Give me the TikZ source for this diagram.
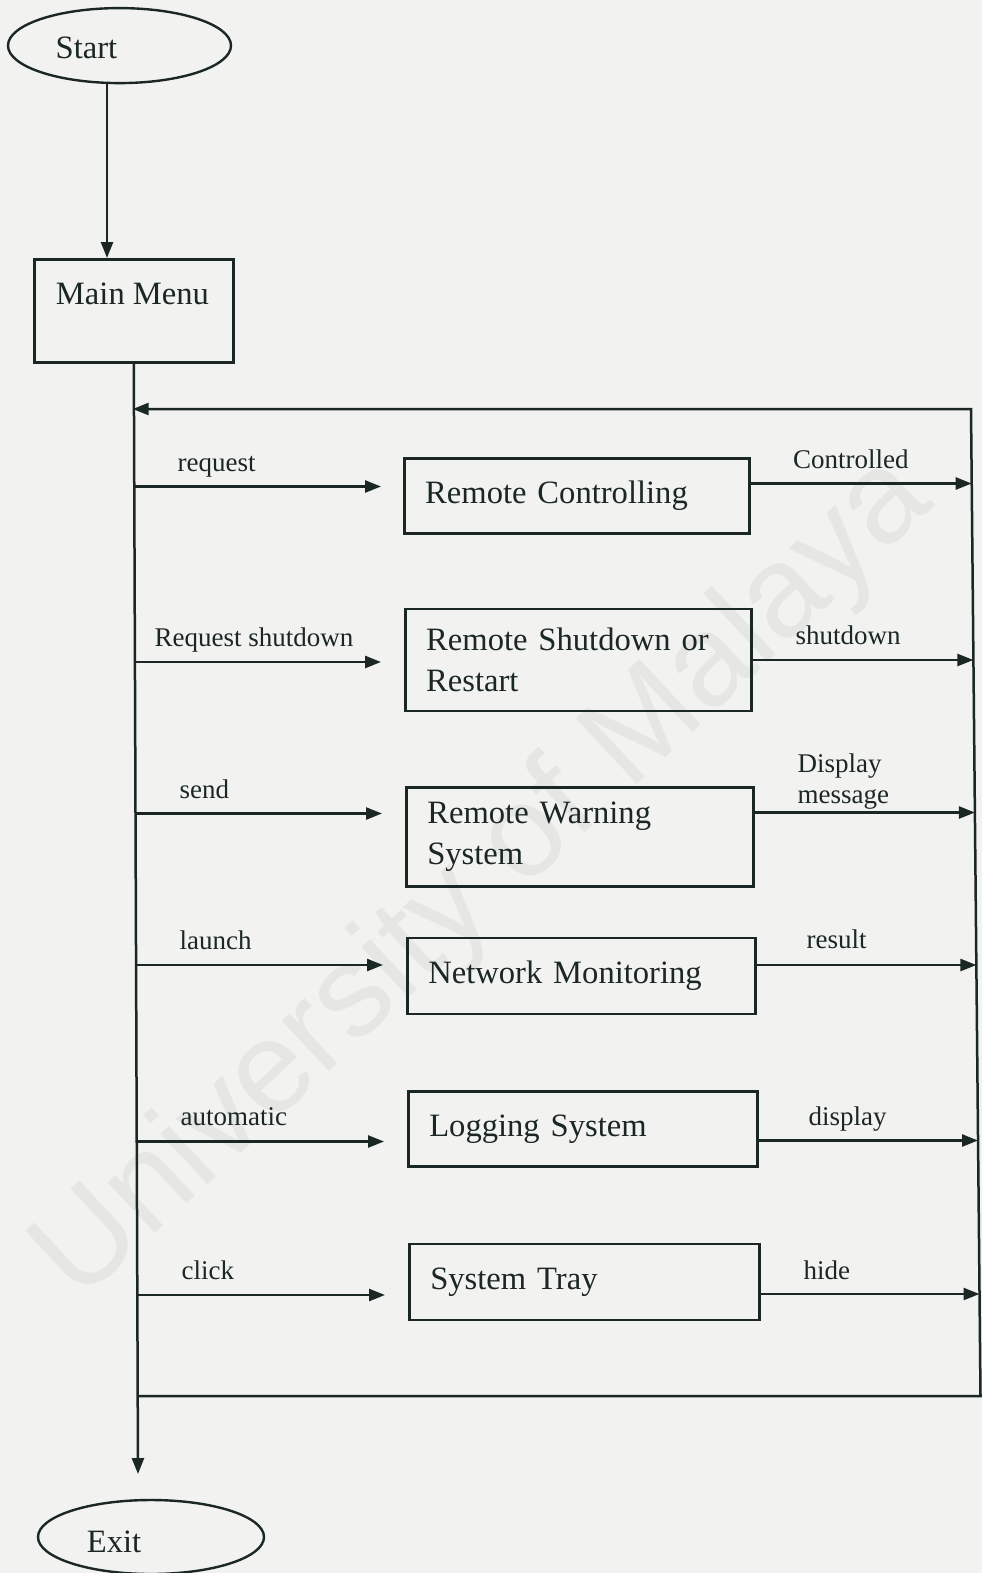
\documentclass[tikz,border=0pt]{standalone}
\usepackage{fontspec}
\setmainfont{Liberation Serif}
\newfontfamily\wmfont{Liberation Sans}
\usetikzlibrary{arrows.meta,shapes.geometric,calc}
\definecolor{ink}{HTML}{1B2724}
\definecolor{paper}{HTML}{F2F2F0}
\definecolor{wmark}{HTML}{E6E7E5}
\begin{document}
\begin{tikzpicture}[x=1pt,y=-1pt,
  line/.style={draw=ink,line width=2.5pt},
  arr/.style={line,-{Triangle[length=16pt,width=12pt]}},
  box/.style={draw=ink,line width=2.6pt,rectangle,inner xsep=21pt,inner ysep=0pt,
    align=left,text=ink,font=\fontsize{32.6}{41}\selectfont},
  term/.style={draw=ink,line width=2.4pt,ellipse,inner sep=0pt},
  ttext/.style={text=ink,font=\fontsize{32.6}{40}\selectfont,inner sep=0pt,anchor=base},
  lbl/.style={text=ink,font=\fontsize{27}{31}\selectfont,inner sep=0pt,anchor=base west,align=left},
]
% page
\fill[paper] (0,0) rectangle (982,1573);
\useasboundingbox (0,0) rectangle (982,1573);

% watermark
\node[text=wmark,font=\wmfont\fontsize{130}{130}\selectfont,rotate=43,inner sep=0pt]
  (watermark) at (485,880) {University of Malaya};

% terminals and main menu
\node[term,minimum width=223pt,minimum height=75pt] (start) at (119.5,45.6) {};
\node[ttext] (starttxt) at (86.5,59) {Start};
\node[draw=ink,line width=2.6pt,rectangle,minimum width=199pt,minimum height=103pt,anchor=north west]
  (mm) at (33,258) {};
\node[ttext] (mmtxt) at (132.5,304) {Main Menu};
\node[term,minimum width=226pt,minimum height=74pt] (exit) at (151,1537) {};
\node[ttext] (exittxt) at (114,1552) {Exit};

% function boxes
\node[box,text width=303pt,minimum height=75pt]  (rc) at (576.7,496)  {Remote Controlling};
\node[box,text width=304pt,minimum height=102pt] (rs) at (578.2,660)  {Remote Shutdown or\\Restart};
\node[box,text width=305pt,minimum height=99pt]  (rw) at (579.8,837)  {Remote Warning\\System};
\node[box,text width=306pt,minimum height=76pt]  (nm) at (581.3,976)  {Network Monitoring};
\node[box,text width=307pt,minimum height=75pt]  (ls) at (582.8,1129) {Logging System};
\node[box,text width=308pt,minimum height=76pt]  (st) at (584.3,1282) {System Tray};

% trunk and loop corners
\coordinate (trunkend) at (138,1474);
\coordinate (rtop) at (971,409);
\coordinate (rbot) at (980.5,1396);
\coordinate (jtop) at (132.7,409);
\coordinate (jbot) at (137.6,1396);
\coordinate (j1) at (133.1,486.5);
\coordinate (j2) at (134.0,662);
\coordinate (j3) at (134.7,813.5);
\coordinate (j4) at (135.5,965);
\coordinate (j5) at (136.4,1141.5);
\coordinate (j6) at (137.1,1295);
% in-arrow tips
\coordinate (i1) at (381,486.5);
\coordinate (i2) at (381,662);
\coordinate (i3) at (382,813.5);
\coordinate (i4) at (383,965);
\coordinate (i5) at (384,1141.5);
\coordinate (i6) at (385,1295);
% out-arrow tips on the return line
\coordinate (o1) at (971.7,483.5);
\coordinate (o2) at (973.4,660);
\coordinate (o3) at (974.9,812.5);
\coordinate (o4) at (976.4,965);
\coordinate (o5) at (978.0,1140.5);
\coordinate (o6) at (979.5,1294);

\draw[arr] (start.252) -- (start.252 |- mm.north);
\draw[arr] (mm.south) -- (trunkend);
\draw[arr,line join=miter] (jbot) -- (rbot) -- (rtop) -- (jtop);

\foreach \k in {1,...,6} \draw[arr] (j\k) -- (i\k);
\draw[arr] (rc.east |- o1) -- (o1);
\draw[arr] (rs.east |- o2) -- (o2);
\draw[arr] (rw.east |- o3) -- (o3);
\draw[arr] (nm.east |- o4) -- (o4);
\draw[arr] (ls.east |- o5) -- (o5);
\draw[arr] (st.east |- o6) -- (o6);

% connector labels
\node[lbl] (l1) at (177.5,471) {request};
\node[lbl] (l2) at (154.5,646) {Request shutdown};
\node[lbl] (l3) at (179.5,798) {send};
\node[lbl] (l4) at (179.5,949) {launch};
\node[lbl] (l5) at (180.5,1125) {automatic};
\node[lbl] (l6) at (181.5,1279) {click};
\node[lbl] (r1) at (793,468) {Controlled};
\node[lbl] (r2) at (795.5,644) {shutdown};
\node[lbl,anchor=north west] (r3) at (797.5,753.6) {Display\\message};
\node[lbl] (r4) at (806.5,948) {result};
\node[lbl] (r5) at (808.5,1125) {display};
\node[lbl] (r6) at (803.5,1279) {hide};
\end{tikzpicture}
\end{document}
